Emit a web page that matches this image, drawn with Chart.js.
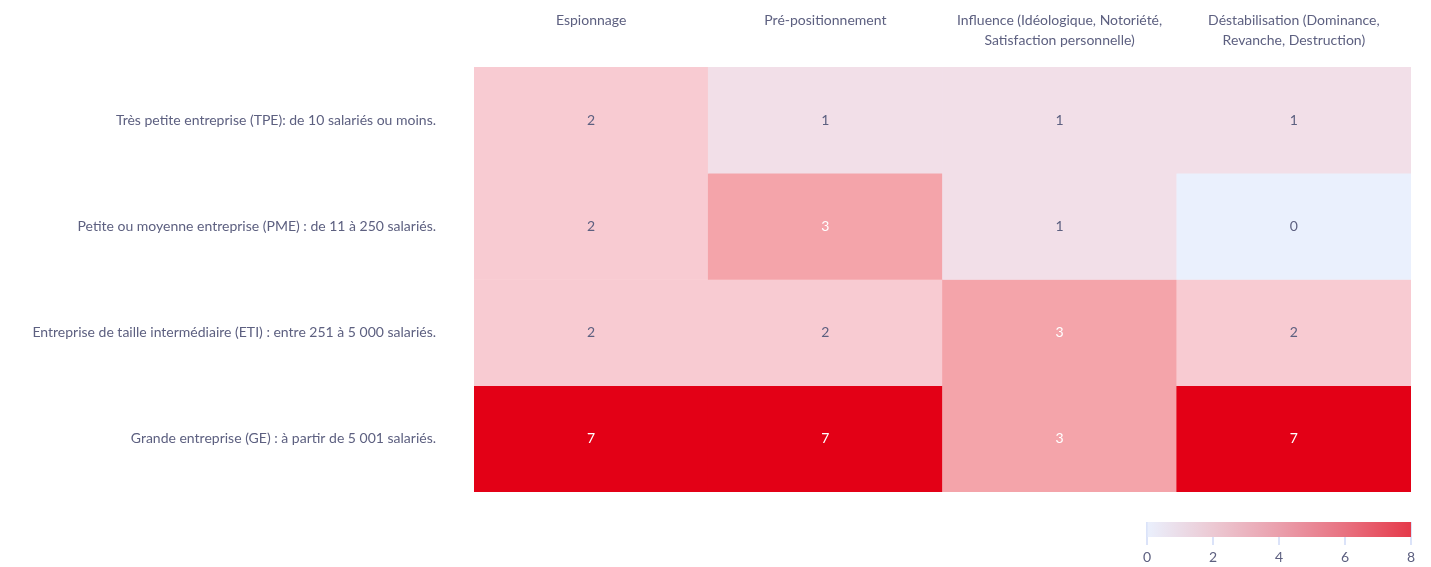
<!DOCTYPE html>
<html>
<head>
<meta charset="utf-8">
<script src="https://cdn.jsdelivr.net/npm/chart.js@4/dist/chart.umd.min.js"></script>
<style>
  body { margin: 0; background: #fff; }
  #wrap { position: relative; width: 1431px; height: 567px; }
  #heat { position: absolute; left: 0; top: 0; }
  #scale { position: absolute; left: 1130px; top: 505px; }
</style>
</head>
<body>
<div id="wrap">
  <canvas id="heat" width="1431" height="567"></canvas>
  <canvas id="scale" width="301" height="62"></canvas>
</div>
<script>
// ===== DATA =====
const columns = [
  "Espionnage",
  "Pré-positionnement",
  ["Influence (Idéologique, Notoriété,", "Satisfaction personnelle)"],
  ["Déstabilisation (Dominance,", "Revanche, Destruction)"]
];
const rows = [
  "Très petite entreprise (TPE): de 10 salariés ou moins.",
  "Petite ou moyenne entreprise (PME) : de 11 à 250 salariés.",
  "Entreprise de taille intermédiaire (ETI) : entre 251 à 5 000 salariés.",
  "Grande entreprise (GE) : à partir de 5 001 salariés."
];
const tpe = [2, 1, 1, 1];
const pme = [2, 3, 1, 0];
const eti = [2, 2, 3, 2];
const ge = [7, 7, 3, 7];
const scaleTicks = [0, 2, 4, 6, 8];

// colour for each value 0..8
const palette = ["#EAF0FD", "#F2DFE8", "#F8CBD2", "#F4A4AA", "#EE8590", "#EA6470", "#E64350", "#E30016", "#E30016"];

const textColor = "#5d6080";
const fontFamily = "Lato, 'Noto Sans', sans-serif";

const values = [tpe, pme, eti, ge];

// ===== HEATMAP =====
const cellLabels = {
  id: "cellLabels",
  afterDatasetsDraw(chart) {
    const ctx = chart.ctx;
    ctx.save();
    ctx.font = "14px " + fontFamily;
    ctx.textAlign = "center";
    ctx.textBaseline = "middle";
    chart.data.datasets.forEach((ds, i) => {
      const meta = chart.getDatasetMeta(i);
      meta.data.forEach((bar, j) => {
        const v = ds.values[j];
        ctx.fillStyle = v >= 3 ? "#ffffff" : textColor;
        ctx.fillText(String(v), bar.x, (bar.y + bar.base) / 2);
      });
    });
    ctx.restore();
  }
};

new Chart(document.getElementById("heat"), {
  type: "bar",
  data: {
    labels: columns,
    datasets: values.map((row, r) => ({
      label: rows[r],
      values: row,
      data: row.map(() => [r, r + 1]),
      backgroundColor: row.map(v => palette[v]),
      borderWidth: 0,
      barPercentage: 1,
      categoryPercentage: 1,
      grouped: false
    }))
  },
  options: {
    responsive: false,
    animation: false,
    layout: { padding: { left: 0, right: 20, top: 0, bottom: 75 } },
    plugins: { legend: { display: false }, tooltip: { enabled: false } },
    scales: {
      x: {
        position: "top",
        grid: { display: false, drawTicks: false },
        border: { display: false },
        ticks: {
          color: textColor,
          font: { family: fontFamily, size: 14, lineHeight: "20px" },
          padding: 17,
          crossAlign: "far",
          maxRotation: 0,
          autoSkip: false
        },
        afterFit(scale) { scale.height = 67; }
      },
      y: {
        type: "linear",
        min: 0,
        max: rows.length,
        reverse: true,
        grid: { display: false, drawTicks: false },
        border: { display: false },
        afterBuildTicks(scale) {
          scale.ticks = rows.map((_, i) => ({ value: i + 0.5 }));
        },
        ticks: {
          color: textColor,
          font: { family: fontFamily, size: 14 },
          padding: 38,
          autoSkip: false,
          callback: (v, i) => rows[i]
        },
        afterFit(scale) { scale.width = 474; }
      }
    }
  },
  plugins: [cellLabels]
});

// ===== COLOR SCALE =====
new Chart(document.getElementById("scale"), {
  type: "bar",
  data: {
    labels: [""],
    datasets: [{
      data: [[scaleTicks[0], scaleTicks[scaleTicks.length - 1]]],
      backgroundColor(c) {
        const area = c.chart.chartArea;
        if (!area) return "#EAF0FD";
        const g = c.chart.ctx.createLinearGradient(area.left, 0, area.right, 0);
        g.addColorStop(0, "#EAF0FD");
        g.addColorStop(0.25, "#ECC9D3");
        g.addColorStop(0.5, "#EA9FAC");
        g.addColorStop(0.75, "#E87180");
        g.addColorStop(1, "#E53A4A");
        return g;
      },
      borderWidth: 0,
      barPercentage: 1,
      categoryPercentage: 1
    }]
  },
  options: {
    indexAxis: "y",
    responsive: false,
    animation: false,
    layout: { padding: { left: 17, right: 20, top: 17, bottom: 0 } },
    plugins: { legend: { display: false }, tooltip: { enabled: false } },
    scales: {
      x: {
        type: "linear",
        min: 0,
        max: 8,
        z: 1,
        afterBuildTicks(scale) {
          scale.ticks = scaleTicks.map(v => ({ value: v }));
        },
        grid: { color: "rgba(215,224,248,0.9)", lineWidth: 2, tickLength: 8 },
        border: { display: false },
        ticks: {
          color: textColor,
          font: { family: fontFamily, size: 14 },
          padding: 4
        },
        afterFit(scale) { scale.height = 30; }
      },
      y: {
        display: false
      }
    }
  }
});
</script>
</body>
</html>
